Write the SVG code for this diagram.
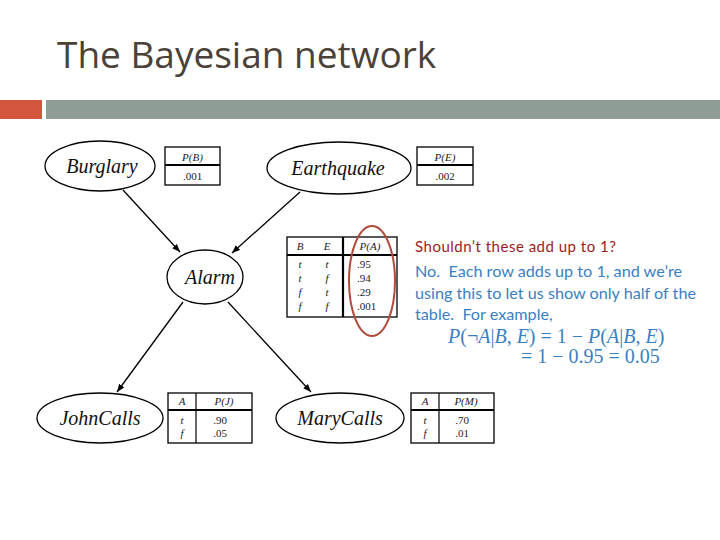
<svg xmlns="http://www.w3.org/2000/svg" width="720" height="540" viewBox="0 0 720 540">
<style>
.node{fill:#fff;stroke:#000;stroke-width:1.3}
.lbl{font-family:"Liberation Serif",serif;font-style:italic;font-size:20px;fill:#111;text-anchor:middle}
.tb{fill:#fff;stroke:#000;stroke-width:1.3}
.thick{stroke:#000;stroke-width:2.2}
.thin{stroke:#000;stroke-width:1.2}
.tt{font-family:"Liberation Serif",serif;font-size:11px;fill:#222}
.it{font-style:italic}
.edge{stroke:#000;stroke-width:1.3;fill:none;marker-end:url(#ah)}
.blue{font-family:Lato,"Open Sans",sans-serif;font-size:16.2px;fill:#3a7fc1}
.math{font-family:"Liberation Serif",serif;font-size:20px;fill:#3a7fc1}
</style>
<defs>
<marker id="ah" viewBox="0 0 10 10" refX="10" refY="5" markerWidth="8" markerHeight="8" markerUnits="userSpaceOnUse" orient="auto">
<path d="M0,1 L10,5 L0,9 z" fill="#000"/>
</marker>
</defs>
<rect width="720" height="540" fill="#fff"/>
<text x="57" y="68" font-family="Open Sans,Lato,sans-serif" font-size="37" fill="#4a4238">The Bayesian network</text>
<rect x="0" y="100" width="42" height="19" fill="#d2553e"/>
<rect x="46" y="100" width="674" height="19" fill="#8f9e94"/>

<g id="connectors">
<line class="edge" x1="123" y1="190" x2="180" y2="252"/>
<line class="edge" x1="300" y1="192" x2="232" y2="253"/>
<line class="edge" x1="183" y1="302" x2="117" y2="392"/>
<line class="edge" x1="228" y1="302" x2="311" y2="392"/>
</g>

<g id="burglary">
<ellipse class="node" cx="100" cy="166" rx="55" ry="25"/>
<text class="lbl" x="102" y="173">Burglary</text>
</g>
<g id="cpt-b">
<rect class="tb" x="165" y="147" width="55" height="38"/>
<line class="thick" x1="165" y1="165" x2="220" y2="165"/>
<text class="tt it" x="192.5" y="161" text-anchor="middle">P(B)</text>
<text class="tt" x="192.5" y="180" text-anchor="middle">.001</text>
</g>

<g id="earthquake">
<ellipse class="node" cx="339" cy="168" rx="72" ry="26"/>
<text class="lbl" x="338" y="175">Earthquake</text>
</g>
<g id="cpt-e">
<rect class="tb" x="417" y="147" width="56" height="38"/>
<line class="thick" x1="417" y1="165" x2="473" y2="165"/>
<text class="tt it" x="445" y="161" text-anchor="middle">P(E)</text>
<text class="tt" x="445" y="180" text-anchor="middle">.002</text>
</g>

<g id="alarm">
<ellipse class="node" cx="205" cy="277" rx="38" ry="27"/>
<text class="lbl" x="210" y="284">Alarm</text>
</g>
<g id="cpt-a">
<rect class="tb" x="287" y="237" width="110" height="80"/>
<line class="thick" x1="287" y1="255" x2="397" y2="255"/>
<line class="thick" x1="343" y1="237" x2="343" y2="317"/>
<text class="tt it" x="300" y="250" text-anchor="middle">B</text>
<text class="tt it" x="327" y="250" text-anchor="middle">E</text>
<text class="tt it" x="370" y="250" text-anchor="middle">P(A)</text>
<g class="tt it" text-anchor="middle">
<text x="300" y="268">t</text><text x="327" y="268">t</text>
<text x="300" y="282">t</text><text x="327" y="282">f</text>
<text x="300" y="296">f</text><text x="327" y="296">t</text>
<text x="300" y="310">f</text><text x="327" y="310">f</text>
</g>
<g class="tt">
<text x="357" y="268">.95</text>
<text x="357" y="282">.94</text>
<text x="357" y="296">.29</text>
<text x="357" y="310">.001</text>
</g>
</g>
<ellipse cx="372" cy="281" rx="23" ry="55" fill="none" stroke="#b04a3c" stroke-width="2"/>

<g id="johncalls">
<ellipse class="node" cx="100" cy="418" rx="63" ry="25"/>
<text class="lbl" x="100" y="425">JohnCalls</text>
</g>
<g id="cpt-j">
<rect class="tb" x="168" y="393" width="84" height="50"/>
<line class="thick" x1="168" y1="410" x2="252" y2="410"/>
<line class="thin" x1="196" y1="393" x2="196" y2="443"/>
<text class="tt it" x="182" y="405" text-anchor="middle">A</text>
<text class="tt it" x="224" y="405" text-anchor="middle">P(J)</text>
<text class="tt it" x="182" y="424" text-anchor="middle">t</text>
<text class="tt it" x="182" y="437" text-anchor="middle">f</text>
<text class="tt" x="220" y="424" text-anchor="middle">.90</text>
<text class="tt" x="220" y="437" text-anchor="middle">.05</text>
</g>

<g id="marycalls">
<ellipse class="node" cx="340" cy="418" rx="64" ry="25"/>
<text class="lbl" x="340" y="425">MaryCalls</text>
</g>
<g id="cpt-m">
<rect class="tb" x="411" y="393" width="83" height="50"/>
<line class="thick" x1="411" y1="410" x2="494" y2="410"/>
<line class="thin" x1="439" y1="393" x2="439" y2="443"/>
<text class="tt it" x="425" y="405" text-anchor="middle">A</text>
<text class="tt it" x="466" y="405" text-anchor="middle">P(M)</text>
<text class="tt it" x="425" y="424" text-anchor="middle">t</text>
<text class="tt it" x="425" y="437" text-anchor="middle">f</text>
<text class="tt" x="462" y="424" text-anchor="middle">.70</text>
<text class="tt" x="462" y="437" text-anchor="middle">.01</text>
</g>

<text x="415" y="252" font-family="Lato,'Open Sans',sans-serif" font-size="15" letter-spacing="0.5" fill="#9b1c1c">Shouldn’t these add up to 1?</text>
<text class="blue" x="415" y="277" xml:space="preserve">No.  Each row adds up to 1, and we’re</text>
<text class="blue" x="415" y="299">using this to let us show only half of the</text>
<text class="blue" x="415" y="320" xml:space="preserve">table.  For example,</text>
<text class="math" x="448" y="343"><tspan font-style="italic">P</tspan>(¬<tspan font-style="italic">A</tspan>|<tspan font-style="italic">B</tspan>, <tspan font-style="italic">E</tspan>) = 1 − <tspan font-style="italic">P</tspan>(<tspan font-style="italic">A</tspan>|<tspan font-style="italic">B</tspan>, <tspan font-style="italic">E</tspan>)</text>
<text class="math" x="521" y="363">= 1 − 0.95 = 0.05</text>
</svg>
